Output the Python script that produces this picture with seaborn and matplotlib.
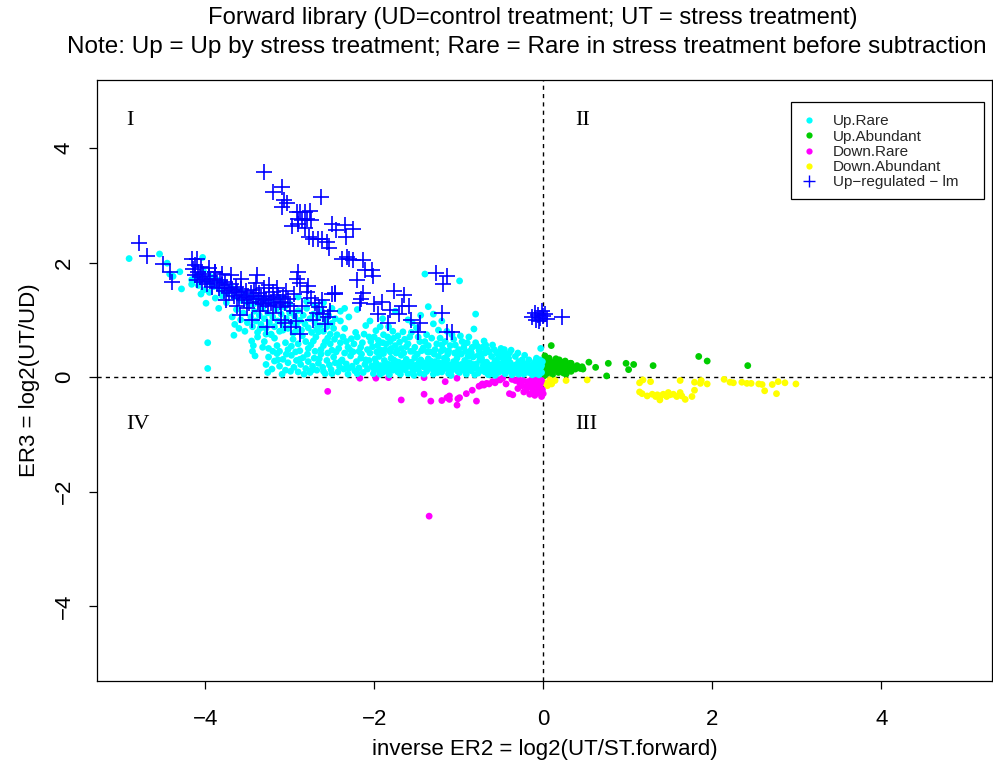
import matplotlib
matplotlib.use("Agg")
import matplotlib.pyplot as plt
import seaborn as sns
import pandas as pd
from matplotlib.lines import Line2D
from matplotlib.patches import Rectangle

sns.set_theme(style="white")
plt.rcParams["font.family"] = ["Liberation Sans", "DejaVu Sans"]
plt.rcParams["axes.unicode_minus"] = True

# ---- data: (inverse ER2, ER3) pairs per class ----
up_rare_tail = [
    (-4.90, 2.07), (-4.54, 2.15), (-4.45, 1.99), (-4.42, 1.80), (-4.38, 1.76), (-4.30, 1.84),
    (-4.28, 1.54), (-4.03, 2.09), (-4.16, 1.70), (-4.16, 1.62), (-4.12, 1.75), (-3.97, 0.60),
    (-3.97, 0.15), (-3.99, 1.29), (-3.84, 1.20), (-3.88, 1.38), (-3.66, 0.73), (-3.45, 0.63),
    (-3.43, 0.55), (-3.44, 0.45), (-3.41, 0.37), (-4.05, 1.45), (-4.08, 1.60), (-4.02, 1.52),
    (-3.95, 1.48), (-3.92, 1.62), (-3.80, 1.42), (-3.75, 1.30),
]

up_rare_band = [
    (-3.68, 1.05), (-3.65, 0.92), (-3.63, 1.18), (-3.60, 0.85), (-3.58, 1.00), (-3.55, 1.12),
    (-3.53, 0.80), (-3.50, 0.95), (-3.48, 1.25), (-3.46, 1.05), (-3.44, 0.88), (-3.42, 1.15),
    (-3.40, 0.98), (-3.38, 0.78), (-3.36, 1.08), (-3.34, 0.92), (-3.32, 1.20), (-3.30, 1.02),
    (-3.28, 0.85), (-3.26, 1.12), (-3.24, 0.95), (-3.22, 0.74), (-3.20, 1.05), (-3.18, 0.88),
    (-3.16, 1.18), (-3.14, 0.98), (-3.12, 0.80), (-3.10, 1.10), (-3.08, 0.92), (-3.06, 1.22),
    (-3.04, 1.02), (-3.02, 0.85), (-3.00, 1.12), (-2.98, 0.95), (-2.96, 0.76), (-2.94, 1.06),
    (-2.92, 0.90), (-2.90, 1.16), (-2.88, 0.99), (-2.86, 0.82), (-2.84, 1.08), (-2.82, 0.93),
    (-2.80, 1.20), (-2.78, 0.86), (-2.76, 1.02), (-2.74, 0.78), (-2.72, 1.10), (-2.70, 0.95),
    (-2.68, 0.84), (-2.66, 1.04), (-2.64, 0.90), (-2.62, 1.15), (-2.60, 0.80), (-2.58, 0.98),
    (-2.56, 0.88), (-2.54, 1.08), (-2.52, 0.75), (-2.50, 0.94), (-2.48, 0.85), (-2.46, 1.02),
    (-4.10, 1.78), (-4.06, 1.70), (-4.02, 1.85), (-3.98, 1.66), (-3.94, 1.76), (-3.90, 1.58),
    (-3.86, 1.70), (-3.82, 1.52), (-3.78, 1.64), (-3.74, 1.46), (-3.70, 1.58), (-3.66, 1.40),
    (-3.62, 1.52), (-3.58, 1.34), (-3.54, 1.46), (-3.50, 1.30), (-3.46, 1.42), (-3.42, 1.28),
    (-3.38, 1.38), (-3.34, 1.26), (-3.30, 1.34), (-3.20, 1.30), (-3.10, 1.38), (-3.00, 1.28),
    (-2.90, 1.40), (-2.80, 1.32), (-2.70, 1.25), (-2.60, 1.30), (-2.50, 1.20), (-2.40, 1.15),
    (-2.30, 1.05),
]

up_rare_mid = [
    (-3.30, 0.62), (-3.22, 0.75), (-3.15, 0.55), (-3.08, 0.82), (-3.02, 0.48), (-2.96, 0.66),
    (-2.90, 0.58), (-2.85, 0.72), (-2.78, 0.50), (-2.72, 0.63), (-2.66, 0.79), (-2.60, 0.55),
    (-2.55, 0.68), (-2.50, 0.47), (-2.44, 0.74), (-2.40, 0.60), (-2.35, 0.85), (-2.31, 0.52),
    (-2.27, 0.67), (-2.22, 0.78), (-2.18, 0.45), (-2.14, 0.60), (-2.10, 0.90), (-2.06, 0.70),
    (-2.02, 0.53), (-1.98, 0.81), (-1.95, 0.64), (-1.92, 0.47), (-1.89, 0.74), (-1.86, 0.58),
    (-1.83, 0.88), (-1.80, 0.50), (-1.77, 0.68), (-1.74, 0.42), (-1.70, 0.61), (-1.66, 0.79),
    (-1.62, 0.53), (-1.58, 0.70), (-1.54, 0.45), (-1.50, 0.86), (-1.46, 0.62), (-1.42, 0.51),
    (-1.38, 0.74), (-1.34, 0.44), (-1.30, 0.93), (-1.26, 0.58), (-1.22, 0.68), (-1.18, 0.48),
    (-1.14, 0.80), (-1.10, 0.55), (-1.06, 0.66), (-1.02, 0.43), (-0.98, 0.72), (-0.94, 0.52),
    (-0.90, 0.60), (-0.86, 0.46), (-0.82, 0.84), (-0.78, 0.54), (-0.74, 0.41), (-0.70, 0.63),
    (-0.66, 0.48), (-0.60, 0.56), (-0.55, 0.42), (-0.50, 0.50), (-0.45, 0.40), (-0.38, 0.47),
    (-0.30, 0.42), (-0.22, 0.38),
    (-1.40, 1.80), (-0.99, 1.68), (-0.80, 1.10), (-1.36, 1.23), (-0.03, 0.50), (-2.20, 1.18),
    (-2.35, 1.20), (-2.55, 1.05), (-2.40, 0.98), (-1.90, 1.02), (-1.75, 1.15), (-1.60, 1.00),
    (-1.45, 1.08), (-1.30, 1.10), (-1.20, 0.98), (-1.55, 0.95), (-2.05, 0.98),
    (-3.25, 0.50), (-3.18, 0.68), (-3.12, 0.45), (-3.05, 0.60), (-2.98, 0.54), (-2.93, 0.80),
    (-2.88, 0.46), (-2.81, 0.62), (-2.75, 0.56), (-2.69, 0.70), (-2.63, 0.48), (-2.58, 0.62),
    (-2.52, 0.58), (-2.47, 0.66), (-2.42, 0.50), (-2.37, 0.70), (-2.33, 0.62), (-2.29, 0.48),
    (-2.24, 0.58), (-2.20, 0.70), (-2.16, 0.52), (-2.12, 0.75), (-2.08, 0.48), (-2.04, 0.62),
    (-2.00, 0.70), (-1.96, 0.55), (-1.93, 0.88), (-1.90, 0.60), (-1.87, 0.48), (-1.84, 0.70),
    (-1.81, 0.62), (-1.78, 0.80), (-1.75, 0.55), (-1.72, 0.72), (-1.68, 0.50), (-1.64, 0.66),
    (-1.60, 0.58), (-1.56, 0.78), (-1.52, 0.52), (-1.48, 0.70), (-1.44, 0.46), (-1.40, 0.62),
    (-1.36, 0.55), (-1.32, 0.68), (-1.28, 0.48), (-1.24, 0.82), (-1.20, 0.56), (-1.16, 0.62),
    (-1.12, 0.46), (-1.08, 0.74), (-1.04, 0.56), (-1.00, 0.48), (-0.96, 0.62), (-0.92, 0.45),
    (-0.88, 0.70), (-0.84, 0.52), (-0.80, 0.60), (-0.76, 0.47), (-0.72, 0.52), (-0.68, 0.56),
    (-0.64, 0.44), (-0.58, 0.48), (-0.52, 0.44), (-0.46, 0.48), (-0.40, 0.42), (-3.38, 0.70),
    (-3.35, 0.85), (-3.32, 0.52), (-3.28, 0.75),
]

up_rare_low = [
    (-3.28, 0.22), (-3.25, 0.35), (-3.21, 0.14), (-3.18, 0.28), (-3.15, 0.41), (-3.12, 0.19),
    (-3.08, 0.31), (-3.05, 0.12), (-3.02, 0.25), (-2.98, 0.38), (-2.95, 0.17), (-2.92, 0.29),
    (-2.90, 0.09), (-2.87, 0.22), (-2.84, 0.34), (-2.81, 0.15),
    (-2.78, 0.27), (-2.76, 0.08), (-2.73, 0.19), (-2.71, 0.33), (-2.68, 0.12), (-2.66, 0.24),
    (-2.63, 0.40), (-2.61, 0.17), (-2.58, 0.06), (-2.56, 0.29), (-2.53, 0.21), (-2.51, 0.13),
    (-2.48, 0.35), (-2.46, 0.25), (-2.43, 0.09), (-2.41, 0.18), (-2.38, 0.30), (-2.36, 0.14),
    (-2.33, 0.23), (-2.31, 0.05), (-2.28, 0.37), (-2.26, 0.19), (-2.23, 0.11), (-2.21, 0.27),
    (-2.18, 0.16), (-2.16, 0.33), (-2.13, 0.08), (-2.11, 0.22), (-2.08, 0.14), (-2.06, 0.29),
    (-2.03, 0.19), (-2.01, 0.06),
    (-1.98, 0.25), (-1.96, 0.13), (-1.94, 0.36), (-1.92, 0.20), (-1.90, 0.08), (-1.88, 0.29),
    (-1.86, 0.16), (-1.84, 0.23), (-1.82, 0.04), (-1.80, 0.33), (-1.78, 0.12), (-1.76, 0.21),
    (-1.74, 0.27), (-1.72, 0.09), (-1.70, 0.17), (-1.68, 0.38), (-1.66, 0.24), (-1.64, 0.13),
    (-1.62, 0.31), (-1.60, 0.06), (-1.58, 0.19), (-1.56, 0.26), (-1.54, 0.11), (-1.52, 0.34),
    (-1.50, 0.21), (-1.48, 0.15), (-1.46, 0.07), (-1.44, 0.28), (-1.42, 0.18), (-1.40, 0.24),
    (-1.38, 0.10), (-1.36, 0.32), (-1.34, 0.16), (-1.32, 0.22), (-1.30, 0.05), (-1.28, 0.27),
    (-1.26, 0.13), (-1.24, 0.36), (-1.22, 0.19), (-1.20, 0.09), (-1.18, 0.25), (-1.16, 0.15),
    (-1.14, 0.30), (-1.12, 0.06), (-1.10, 0.21), (-1.08, 0.12), (-1.06, 0.27), (-1.04, 0.17),
    (-1.02, 0.33),
    (-0.99, 0.08), (-0.97, 0.22), (-0.95, 0.14), (-0.93, 0.29), (-0.91, 0.05), (-0.89, 0.19),
    (-0.87, 0.25), (-0.85, 0.11), (-0.83, 0.35), (-0.81, 0.16), (-0.79, 0.23), (-0.77, 0.07),
    (-0.75, 0.30), (-0.73, 0.13), (-0.71, 0.20), (-0.69, 0.09), (-0.67, 0.26), (-0.65, 0.15),
    (-0.63, 0.05), (-0.61, 0.21), (-0.59, 0.12), (-0.57, 0.28), (-0.55, 0.17), (-0.53, 0.08),
    (-0.51, 0.23), (-0.49, 0.14), (-0.47, 0.31), (-0.45, 0.06), (-0.43, 0.19), (-0.41, 0.11),
    (-0.39, 0.25), (-0.37, 0.16), (-0.35, 0.07), (-0.33, 0.21), (-0.31, 0.13), (-0.29, 0.27),
    (-0.27, 0.09), (-0.25, 0.18), (-0.23, 0.05), (-0.21, 0.23), (-0.19, 0.14), (-0.17, 0.08),
    (-0.15, 0.20), (-0.13, 0.11), (-0.11, 0.16), (-0.09, 0.06), (-0.07, 0.22), (-0.05, 0.12),
    (-0.03, 0.17), (-0.02, 0.08), (-0.01, 0.27), (-0.04, 0.30), (-0.08, 0.33),
    (-3.26, 0.08), (-3.20, 0.45), (-3.14, 0.30), (-3.09, 0.05), (-3.04, 0.40), (-2.99, 0.10),
    (-2.93, 0.44), (-2.88, 0.31), (-2.83, 0.05), (-2.79, 0.40), (-2.74, 0.12), (-2.70, 0.45),
    (-2.65, 0.32), (-2.60, 0.10), (-2.55, 0.42), (-2.50, 0.06), (-2.45, 0.44), (-2.40, 0.27),
    (-2.35, 0.42), (-2.30, 0.15), (-2.25, 0.44), (-2.20, 0.06), (-2.15, 0.40), (-2.10, 0.30),
    (-2.05, 0.42), (-2.00, 0.14), (-1.97, 0.44), (-1.93, 0.05), (-1.89, 0.41), (-1.85, 0.10),
    (-1.81, 0.44), (-1.77, 0.30), (-1.73, 0.46), (-1.69, 0.05), (-1.65, 0.42), (-1.61, 0.18),
    (-1.57, 0.45), (-1.53, 0.03), (-1.49, 0.40), (-1.45, 0.30), (-1.41, 0.05), (-1.37, 0.44),
    (-1.33, 0.28), (-1.29, 0.40), (-1.25, 0.08), (-1.21, 0.45), (-1.17, 0.33), (-1.13, 0.40),
    (-1.09, 0.03), (-1.05, 0.42), (-1.01, 0.10), (-0.97, 0.40), (-0.93, 0.12), (-0.89, 0.36),
    (-0.85, 0.42), (-0.81, 0.04), (-0.77, 0.38), (-0.73, 0.33), (-0.69, 0.42), (-0.65, 0.04),
    (-0.61, 0.36), (-0.57, 0.03), (-0.53, 0.34), (-0.49, 0.38), (-0.45, 0.26), (-0.41, 0.33),
    (-0.37, 0.04), (-0.33, 0.36), (-0.29, 0.05), (-0.25, 0.30), (-0.21, 0.10), (-0.17, 0.30),
    (-0.13, 0.04), (-0.09, 0.28), (-0.05, 0.04), (-0.02, 0.20), (-0.11, 0.24), (-0.15, 0.14),
    (-0.19, 0.20), (-0.23, 0.15), (-0.27, 0.20), (-0.31, 0.19), (-0.35, 0.12), (-0.39, 0.18),
    (-0.43, 0.13), (-0.47, 0.17), (-0.51, 0.10), (-0.55, 0.26), (-0.59, 0.20), (-0.63, 0.15),
    (-0.67, 0.18), (-0.71, 0.26), (-0.75, 0.11), (-0.79, 0.17), (-0.83, 0.22), (-0.87, 0.13),
    (-0.91, 0.24), (-0.95, 0.20), (-0.99, 0.15), (-1.03, 0.24), (-1.07, 0.20), (-1.11, 0.14),
    (-1.15, 0.22), (-1.19, 0.17), (-1.23, 0.25), (-1.27, 0.20), (-1.31, 0.14), (-1.35, 0.25),
    (-1.39, 0.17), (-1.43, 0.22), (-1.47, 0.26), (-1.51, 0.14), (-1.55, 0.17), (-1.59, 0.25),
    (-1.63, 0.20), (-1.67, 0.15), (-1.71, 0.26), (-1.75, 0.14), (-1.79, 0.22), (-1.83, 0.15),
    (-1.87, 0.22), (-1.91, 0.14), (-1.95, 0.20), (-1.99, 0.32),
]

up_abundant = [
    (0.02, 0.37), (0.095, 0.55), (0.01, 0.30), (0.03, 0.25), (0.05, 0.20), (0.02, 0.15),
    (0.06, 0.10), (0.08, 0.28), (0.10, 0.18), (0.12, 0.24), (0.04, 0.06), (0.14, 0.12),
    (0.16, 0.22), (0.18, 0.08), (0.20, 0.16), (0.21, 0.26), (0.23, 0.12), (0.25, 0.20),
    (0.27, 0.05), (0.28, 0.15), (0.30, 0.22), (0.32, 0.24), (0.33, 0.10), (0.35, 0.18),
    (0.07, 0.33), (0.01, 0.02), (0.11, 0.04), (0.19, 0.30), (0.26, 0.28), (0.15, 0.32),
    (0.09, 0.12), (0.13, 0.17), (0.24, 0.07), (0.29, 0.10), (0.38, 0.14), (0.40, 0.20),
    (0.21, 0.26), (0.32, 0.24), (0.33, 0.24), (0.44, 0.15), (0.46, 0.18), (0.47, 0.14),
    (0.54, 0.26), (0.62, 0.17), (0.75, 0.02), (0.77, 0.24), (0.98, 0.24), (1.01, 0.13),
    (1.07, 0.22), (1.30, 0.20), (1.84, 0.36), (1.94, 0.28), (2.42, 0.20),
]

down_rare = [
    (-2.55, -0.25), (-2.17, -0.02), (-1.98, -0.02), (-1.83, -0.01), (-1.68, -0.40),
    (-1.41, -0.01), (-1.41, -0.30), (-1.33, -0.42), (-1.35, -2.43), (-1.20, -0.41),
    (-1.16, -0.08), (-1.14, -0.36), (-1.11, -0.33), (-1.11, -0.39), (-1.02, -0.49),
    (-1.02, -0.02), (-1.01, -0.38), (-0.99, -0.36), (-0.91, -0.29), (-0.84, -0.23),
    (-0.79, -0.42), (-0.73, -0.14), (-0.67, -0.11), (-0.57, -0.10), (-0.51, -0.05),
    (-0.48, -0.02), (-0.40, -0.29), (-0.36, -0.31), (-0.30, -0.20), (-0.25, -0.15),
    (-0.23, -0.26), (-0.19, -0.14), (-0.16, -0.30), (-0.13, -0.20), (-0.10, -0.32),
    (-0.07, -0.08), (-0.06, -0.23), (-0.04, -0.15), (-0.02, -0.06), (0.00, -0.29),
    (-0.37, -0.04), (-0.29, -0.04), (-0.08, -0.02), (-0.72, -0.12), (-0.60, -0.08),
    (-0.03, -0.20), (-0.05, -0.27), (-0.11, -0.10),
    (-0.28, -0.10), (-0.24, -0.06), (-0.20, -0.22), (-0.18, -0.08), (-0.15, -0.16),
    (-0.12, -0.26), (-0.09, -0.12), (-0.06, -0.18), (-0.03, -0.10), (-0.01, -0.22),
    (-0.02, -0.34), (-0.08, -0.28), (-0.14, -0.05), (-0.33, -0.06), (-0.44, -0.12),
    (-0.54, -0.05), (-0.64, -0.12), (-0.70, -0.14), (-0.76, -0.16),
]

down_abundant = [
    (0.075, -0.08), (0.14, -0.06), (0.27, -0.06), (0.52, -0.05), (1.14, -0.10), (1.18, -0.05),
    (1.27, -0.08), (1.14, -0.26), (1.17, -0.29), (1.23, -0.33), (1.29, -0.30), (1.33, -0.34),
    (1.35, -0.31), (1.38, -0.40), (1.39, -0.33), (1.42, -0.30), (1.46, -0.34), (1.48, -0.27),
    (1.50, -0.31), (1.54, -0.30), (1.58, -0.34), (1.62, -0.27), (1.64, -0.33), (1.68, -0.39),
    (1.76, -0.34), (1.62, -0.06), (1.79, -0.23), (1.79, -0.09), (1.87, -0.06), (1.86, -0.11),
    (1.94, -0.12), (2.14, -0.04), (2.21, -0.09), (2.25, -0.10), (2.35, -0.09), (2.41, -0.11),
    (2.46, -0.11), (2.55, -0.12), (2.59, -0.13), (2.62, -0.24), (2.71, -0.13), (2.76, -0.29),
    (2.78, -0.08), (2.86, -0.10), (2.99, -0.12),
    (0.02, -0.10), (0.05, -0.15), (0.10, -0.12), (0.08, -0.05),
]

up_regulated_lm = [
    (-4.78, 2.35), (-4.69, 2.11), (-4.50, 1.97), (-4.42, 1.84), (-4.39, 1.66), (-4.16, 2.07),
    (-4.10, 2.07), (-4.12, 1.96),
    (-4.14, 1.88), (-4.12, 1.78), (-4.10, 1.70), (-4.08, 1.84), (-4.06, 1.74), (-4.04, 1.66),
    (-4.02, 1.80), (-4.00, 1.72), (-3.98, 1.62), (-3.96, 1.76), (-3.94, 1.68), (-3.92, 1.58),
    (-3.90, 1.72), (-3.88, 1.84), (-3.86, 1.64), (-3.84, 1.56), (-3.82, 1.70), (-3.80, 1.60),
    (-3.78, 1.50), (-3.76, 1.66), (-3.74, 1.56), (-3.72, 1.46), (-3.70, 1.62), (-3.68, 1.52),
    (-3.66, 1.42), (-3.64, 1.58), (-3.62, 1.48), (-3.60, 1.38), (-3.58, 1.54), (-3.56, 1.44),
    (-3.54, 1.34), (-3.52, 1.50), (-3.50, 1.40), (-3.48, 1.30), (-3.46, 1.46), (-3.44, 1.36),
    (-3.42, 1.52), (-3.40, 1.42), (-3.38, 1.32), (-3.36, 1.46), (-3.34, 1.36), (-3.32, 1.28),
    (-3.30, 1.42), (-3.28, 1.34), (-3.26, 1.24), (-3.24, 1.40), (-3.22, 1.30), (-3.20, 1.48),
    (-3.18, 1.36), (-3.16, 1.26), (-3.14, 1.44), (-3.12, 1.32), (-3.10, 1.22), (-3.08, 1.40),
    (-3.06, 1.30), (-3.04, 1.50), (-3.02, 1.36), (-3.00, 1.24),
    (-3.39, 1.78), (-3.88, 1.84), (-3.59, 1.08), (-3.45, 1.00), (-3.58, 1.72), (-3.70, 1.78),
    (-3.25, 1.60), (-3.15, 1.55), (-2.95, 1.45), (-2.90, 1.84), (-2.88, 1.64), (-2.78, 1.59),
    (-2.80, 1.48), (-2.75, 1.38), (-2.70, 1.30), (-2.65, 1.22), (-2.60, 1.10), (-2.55, 1.05),
    (-2.68, 1.12), (-2.62, 1.35), (-2.52, 1.15), (-2.46, 1.46), (-2.99, 0.88), (-2.88, 0.76),
    (-3.27, 0.88), (-3.10, 1.00), (-3.05, 0.95), (-2.95, 1.15), (-2.85, 1.25), (-2.92, 0.98),
    (-3.20, 1.12), (-3.35, 1.15), (-3.50, 1.20), (-3.62, 1.25), (-3.75, 1.35), (-3.40, 1.65),
    (-3.80, 1.80), (-3.95, 1.90), (-4.05, 1.92), (-3.30, 1.55), (-2.72, 1.00), (-2.58, 0.92),
    (-3.30, 3.59), (-3.20, 3.24), (-3.09, 3.32), (-3.07, 3.09), (-3.03, 3.04), (-3.09, 2.97),
    (-2.63, 3.14), (-2.91, 2.89), (-2.88, 2.89), (-2.82, 2.89), (-2.76, 2.90), (-2.90, 2.77),
    (-2.85, 2.75), (-2.79, 2.76), (-2.75, 2.74), (-2.97, 2.64), (-2.90, 2.68), (-2.82, 2.61),
    (-2.77, 2.44), (-2.72, 2.42), (-2.66, 2.42), (-2.62, 2.41), (-2.56, 2.36), (-2.53, 2.25),
    (-2.50, 2.68), (-2.45, 2.57), (-2.34, 2.66), (-2.25, 2.58), (-2.33, 2.44), (-2.32, 2.10),
    (-2.38, 2.07), (-2.30, 2.07), (-2.25, 2.04), (-2.13, 2.04), (-2.11, 1.87), (-2.03, 1.87),
    (-2.01, 1.76), (-2.20, 1.69), (-2.13, 1.47), (-2.16, 1.37), (-2.17, 1.29), (-2.46, 1.45),
    (-2.50, 1.45), (-2.91, 1.72), (-2.00, 1.28), (-1.91, 1.32), (-1.95, 1.10), (-1.77, 1.51),
    (-1.65, 1.43), (-1.81, 1.17), (-1.71, 1.11), (-1.67, 1.24), (-1.59, 1.24), (-1.84, 0.95),
    (-1.56, 1.00), (-1.46, 0.94), (-1.48, 0.79), (-1.20, 1.12), (-1.14, 0.79), (-1.08, 0.79),
    (-1.27, 1.81), (-1.14, 1.76), (-1.19, 1.62),
    (-0.13, 1.05), (-0.10, 1.12), (-0.08, 1.00), (-0.06, 1.08), (-0.04, 1.03), (-0.02, 1.15),
    (0.00, 1.06), (0.02, 1.10), (0.04, 1.02), (-0.05, 0.98), (0.22, 1.05),
]

legend_labels = ["Up.Rare", "Up.Abundant", "Down.Rare", "Down.Abundant", "Up\u2212regulated \u2212 lm"]
class_colors = ["#00FFFF", "#00CD00", "#FF00FF", "#FFFF00", "#0000FF"]
x_ticks = [-4, -2, 0, 2, 4]
y_ticks = [-4, -2, 0, 2, 4]
quadrants = [("I", -4.93, 4.49), ("II", 0.38, 4.49), ("III", 0.38, -0.82), ("IV", -4.93, -0.82)]


def to_frame(points):
    return pd.DataFrame(points, columns=["er2", "er3"])


up_rare = up_rare_tail + up_rare_band + up_rare_mid + up_rare_low

fig = plt.figure(figsize=(9.93, 7.66), dpi=100)
ax = fig.add_axes([97 / 993, 1 - 681 / 766, 895 / 993, 601 / 766])

dot = dict(s=24, edgecolor="none", linewidth=0, legend=False, ax=ax)
sns.scatterplot(data=to_frame(up_abundant), x="er2", y="er3", color=class_colors[1], **dot)
sns.scatterplot(data=to_frame(down_abundant), x="er2", y="er3", color=class_colors[3], **dot)
sns.scatterplot(data=to_frame(down_rare), x="er2", y="er3", color=class_colors[2], **dot)
sns.scatterplot(data=to_frame(up_rare), x="er2", y="er3", color=class_colors[0], **dot)
sns.scatterplot(data=to_frame(up_regulated_lm), x="er2", y="er3", color=class_colors[4],
                marker="+", s=120, linewidth=1.2, legend=False, ax=ax)

ax.axhline(0, color="black", lw=1.0, ls=(0, (3, 3)), zorder=0.5)
ax.axvline(0, color="black", lw=1.0, ls=(0, (3, 3)), zorder=0.5)

for label, qx, qy in quadrants:
    ax.text(qx, qy, label, family=["Liberation Serif", "DejaVu Serif"], fontsize=16,
            ha="left", va="center", color="black")

ax.set_xlim(-5.28, 5.31)
ax.set_ylim(-5.31, 5.19)
ax.set_xticks(x_ticks)
ax.set_yticks(y_ticks)
ax.set_xticklabels([f"{t:d}".replace("-", "\u2212") for t in x_ticks])
ax.set_yticklabels([f"{t:d}".replace("-", "\u2212") for t in y_ticks], rotation=90, va="center")
ax.tick_params(axis="both", direction="out", length=6, width=0.9, labelsize=16,
               color="black", labelcolor="black", bottom=True, left=True)
ax.tick_params(axis="x", pad=14)
ax.tick_params(axis="y", pad=10)
for side in ax.spines.values():
    side.set_visible(True)
    side.set_color("black")
    side.set_linewidth(0.9)
ax.set_facecolor("white")
ax.grid(False)

ax.set_xlabel("inverse ER2 = log2(UT/ST.forward)", fontsize=16, color="black", labelpad=7)
ax.set_ylabel("ER3 = log2(UT/UD)", fontsize=16, color="black", labelpad=10)

fig.text(533 / 993, 1 - 18 / 766, "Forward library (UD=control treatment; UT = stress treatment)",
         ha="center", va="center", fontsize=17.1, color="black")
fig.text(527 / 993, 1 - 47 / 766,
         "Note: Up = Up by stress treatment; Rare = Rare in stress treatment before subtraction",
         ha="center", va="center", fontsize=17.5, color="black")

# legend box drawn as an axes-fraction rectangle; entries placed inside it
box_left, box_right = (791 - 97) / 895, (984 - 97) / 895
box_bottom, box_top = (681 - 199) / 601, (681 - 102) / 601
ax.add_patch(Rectangle((box_left, box_bottom), box_right - box_left, box_top - box_bottom,
                       transform=ax.transAxes, facecolor="white", edgecolor="black",
                       linewidth=0.9, zorder=4))
handles = [Line2D([], [], ls="none", marker="o", markersize=4.5, markerfacecolor=c,
                  markeredgecolor="none") for c in class_colors[:4]]
handles.append(Line2D([], [], ls="none", marker="+", markersize=9, markeredgewidth=1.0,
                      color=class_colors[4]))
leg = ax.legend(handles, legend_labels, loc="upper left",
                bbox_to_anchor=(box_left, box_top - 4 / 601),
                fontsize=11, frameon=False, borderpad=0.55, labelspacing=0.08,
                handlelength=1.2, handletextpad=1.0, borderaxespad=0)
leg.set_zorder(5)

fig.savefig("out.png", dpi=100, facecolor="white")
